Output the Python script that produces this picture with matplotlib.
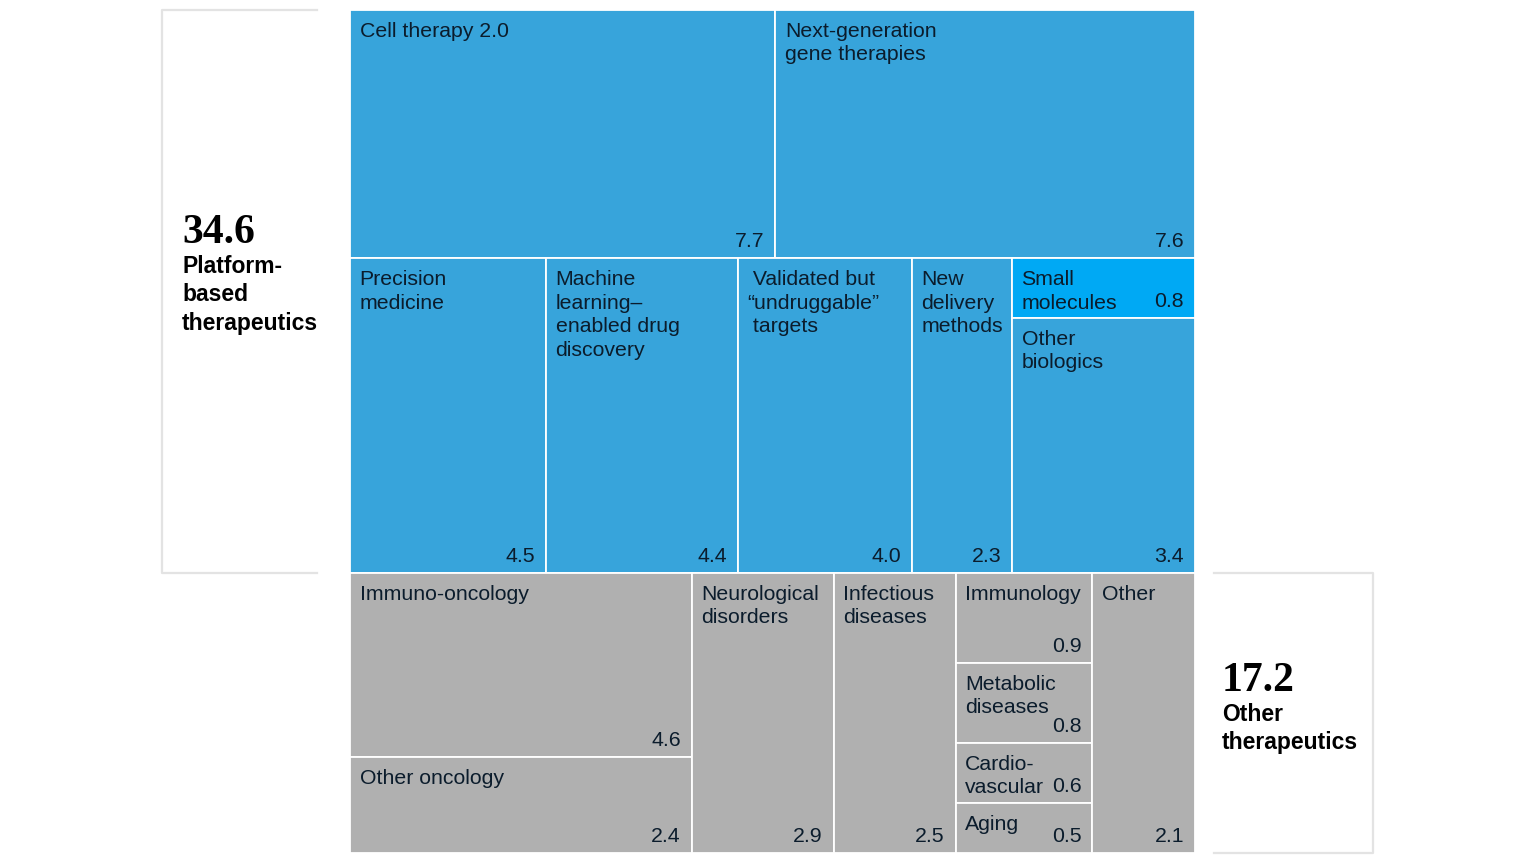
import matplotlib.pyplot as plt
from matplotlib.patches import Rectangle

# platform-based therapeutics (blue), two rows
top_row_names = ['Cell therapy 2.0', 'Next-generation\ngene therapies']
top_row_vals = [7.7, 7.6]
mid_row_names = ['Precision\nmedicine', 'Machine\nlearning–\nenabled drug\ndiscovery',
                 ' Validated but\n“undruggable”\n targets', 'New\ndelivery\nmethods']
mid_row_vals = [4.5, 4.4, 4.0, 2.3]
stack_names = ['Small\nmolecules', 'Other\nbiologics']
stack_vals = [0.8, 3.4]
platform_total = '34.6'

# other therapeutics (gray), columns
onc_names = ['Immuno-oncology', 'Other oncology']
onc_vals = [4.6, 2.4]
single_names = ['Neurological\ndisorders', 'Infectious\ndiseases']
single_vals = [2.9, 2.5]
misc_names = ['Immunology', 'Metabolic\ndiseases', 'Cardio-\nvascular', 'Aging']
misc_vals = [0.9, 0.8, 0.6, 0.5]
last_name = 'Other'
last_val = 2.1
other_total = '17.2'

BLUE = '#37a4db'
BRIGHT = '#00a9f4'
GRAY = '#b0b0b0'
INK = '#0b1c2c'
LABEL_FONT = 'Liberation Sans'

fig = plt.figure(figsize=(15.36, 8.64), dpi=100)
ax = fig.add_axes([0, 0, 1, 1])
ax.set_xlim(0, 1536)
ax.set_ylim(864, 0)
ax.axis('off')

X0, X1, Y0, Y1 = 350, 1195, 10, 853
W = X1 - X0
blue_sum = sum(top_row_vals) + sum(mid_row_vals) + sum(stack_vals)
gray_sum = sum(onc_vals) + sum(single_vals) + sum(misc_vals) + last_val
unit_h = (Y1 - Y0) / (blue_sum + gray_sum)


def cell(x, y, w, h, name, val, color):
    ax.add_patch(Rectangle((x, y), w, h, facecolor=color, edgecolor='white', lw=1.3))
    ax.text(x + 9.5, y + 12, name, ha='left', va='top', fontsize=15.3, color=INK,
            family=LABEL_FONT, linespacing=1.3)
    ax.text(x + w - 11, y + h - 7, f'{val:.1f}', ha='right', va='bottom', fontsize=15.3,
            color=INK, family=LABEL_FONT)


# blue rows
y = Y0
h = sum(top_row_vals) * unit_h
x = X0
for n, v in zip(top_row_names, top_row_vals):
    w = v / sum(top_row_vals) * W
    cell(x, y, w, h, n, v, BLUE)
    x += w
y += h
row2 = sum(mid_row_vals) + sum(stack_vals)
h = row2 * unit_h
x = X0
for n, v in zip(mid_row_names, mid_row_vals):
    w = v / row2 * W
    cell(x, y, w, h, n, v, BLUE)
    x += w
w = sum(stack_vals) / row2 * W
yy = y
for n, v, c in zip(stack_names, stack_vals, [BRIGHT, BLUE]):
    hh = v / sum(stack_vals) * h
    cell(x, yy, w, hh, n, v, c)
    yy += hh
blue_top, blue_bot = Y0, y + h

# gray columns
gy = blue_bot
gh = gray_sum * unit_h
x = X0


def column(x, names, vals):
    w = sum(vals) / gray_sum * W
    yy = gy
    for n, v in zip(names, vals):
        hh = v / sum(vals) * gh
        cell(x, yy, w, hh, n, v, GRAY)
        yy += hh
    return x + w


x = column(x, onc_names, onc_vals)
for n, v in zip(single_names, single_vals):
    x = column(x, [n], [v])
x = column(x, misc_names, misc_vals)
x = column(x, [last_name], [last_val])

# side panels
edge = dict(color='#e3e3e3', lw=1.6)
ax.plot([317, 162, 162, 317], [blue_top, blue_top, blue_bot, blue_bot], **edge)
ax.plot([1214, 1373, 1373, 1214], [gy, gy, gy + gh, gy + gh], **edge)

ax.text(182, 243, platform_total, ha='left', va='baseline', fontsize=30,
        fontweight='bold', family='Liberation Serif', color='black')
ax.text(182, 255, 'Platform-\nbased\ntherapeutics', ha='left', va='top', fontsize=16.5,
        fontweight='bold', family=LABEL_FONT, color='black', linespacing=1.3)
ax.text(1222, 691, other_total, ha='left', va='baseline', fontsize=30,
        fontweight='bold', family='Liberation Serif', color='black')
ax.text(1222, 703, 'Other\ntherapeutics', ha='left', va='top', fontsize=16.5,
        fontweight='bold', family=LABEL_FONT, color='black', linespacing=1.3)

plt.savefig('out.png', dpi=100)
plt.close('all')
